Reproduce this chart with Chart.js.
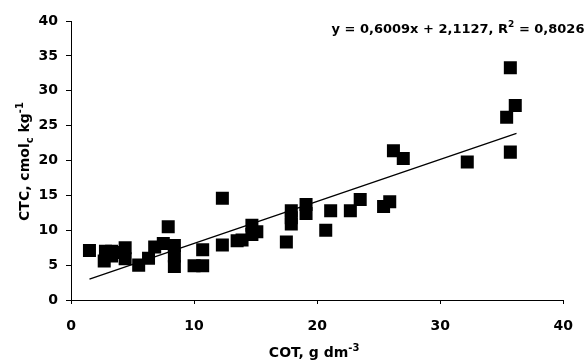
<!DOCTYPE html>
<html>
<head>
<meta charset="utf-8">
<script src="https://cdn.jsdelivr.net/npm/chart.js"></script>
<style>
  html, body { margin: 0; padding: 0; background: #fff; }
  #wrap { width: 587px; height: 362px; }
</style>
</head>
<body>
<div id="wrap"><canvas id="chart"></canvas></div>
<script>
// COT (g dm-3) and CTC (cmolc kg-1)
const cot = [1.5, 2.7, 2.8, 3.3, 3.3, 4.4, 4.4, 4.3, 5.5, 6.3, 6.8, 7.5, 7.9, 8.4, 8.4, 8.4,
  10.0, 10.7, 10.7, 12.3, 12.3, 13.5, 13.9, 14.7, 15.1, 14.7, 17.5, 17.9, 17.9, 17.9,
  19.1, 19.1, 20.7, 21.1, 22.7, 23.5, 25.4, 25.9, 26.2, 27.0, 32.2, 35.4, 36.1, 35.7, 35.7];
const ctc = [7.1, 5.6, 7.0, 7.0, 6.3, 7.5, 5.9, 6.8, 5.0, 6.0, 7.6, 8.1, 10.5, 7.8, 6.3, 4.8,
  4.9, 4.9, 7.2, 14.6, 7.9, 8.5, 8.6, 10.7, 9.8, 9.4, 8.3, 12.8, 11.8, 10.9,
  13.7, 12.4, 10.0, 12.8, 12.8, 14.4, 13.4, 14.1, 21.4, 20.3, 19.8, 26.2, 27.9, 33.3, 21.2];

// trend line ends (y = 0,6009x + 2,1127)
const trendX = [1.5, 36.2];
const trendY = [3.0, 23.9];

const xTicks = [0, 10, 20, 30, 40];
const yTicks = [0, 5, 10, 15, 20, 25, 30, 35, 40];

const FONT = "'DejaVu Sans', sans-serif";

function drawRich(ctx, parts, x, y) {
  let total = 0;
  parts.forEach(p => {
    ctx.font = 'bold ' + p[1] + 'px ' + FONT;
    total += ctx.measureText(p[0]).width;
  });
  let cx = x - total / 2;
  parts.forEach(p => {
    ctx.font = 'bold ' + p[1] + 'px ' + FONT;
    ctx.fillText(p[0], cx, y + p[2]);
    cx += ctx.measureText(p[0]).width;
  });
}

const labelsPlugin = {
  id: 'labels',
  afterDraw(chart) {
    const ctx = chart.ctx;
    const area = chart.chartArea;
    ctx.save();
    ctx.fillStyle = '#000';
    ctx.textBaseline = 'alphabetic';
    ctx.textAlign = 'left';
    // x title
    drawRich(ctx, [['COT, g dm', 14, 0], ['-3', 10, -6]], (area.left + area.right) / 2 - 3, 357);
    // y title
    ctx.save();
    ctx.translate(29, (area.top + area.bottom) / 2 + 1);
    ctx.rotate(-Math.PI / 2);
    drawRich(ctx, [['CTC, cmol', 14, 0], ['c', 10, 4], [' kg', 14, 0], ['-1', 10, -6]], 0, 0);
    ctx.restore();
    // equation
    drawRich(ctx, [['y = 0,6009x + 2,1127, R', 13, 0], ['2', 9, -6], [' = 0,8026', 13, 0]], 458, 33);
    ctx.restore();
  }
};

new Chart(document.getElementById('chart'), {
  data: {
    datasets: [
      {
        type: 'line',
        data: trendX.map((x, i) => ({ x: x, y: trendY[i] })),
        borderColor: '#000',
        borderWidth: 1.3,
        pointRadius: 0,
        fill: false,
        order: 0
      },
      {
        type: 'scatter',
        data: cot.map((x, i) => ({ x: x, y: ctc[i] })),
        pointStyle: 'rect',
        pointRadius: 9.2,
        backgroundColor: '#000',
        borderWidth: 0,
        order: 1
      }
    ]
  },
  options: {
    responsive: true,
    maintainAspectRatio: false,
    animation: false,
    layout: { padding: { left: 0, top: 21, right: 14, bottom: 0 } },
    plugins: { legend: { display: false }, tooltip: { enabled: false } },
    scales: {
      x: {
        type: 'linear',
        min: 0, max: 40,
        afterBuildTicks: s => { s.ticks = xTicks.map(v => ({ value: v })); },
        afterFit: s => { s.height = 62; },
        grid: { drawOnChartArea: false, drawTicks: true, tickLength: 4, color: '#000' },
        border: { color: '#000', width: 1 },
        ticks: { color: '#000', padding: 14, maxRotation: 0, font: { family: FONT, size: 14, weight: 'bold' } }
      },
      y: {
        type: 'linear',
        min: 0, max: 40,
        afterBuildTicks: s => { s.ticks = yTicks.map(v => ({ value: v })); },
        afterFit: s => { s.width = 71; },
        grid: { drawOnChartArea: false, drawTicks: true, tickLength: 5, color: '#000' },
        border: { color: '#000', width: 1 },
        ticks: { color: '#000', padding: 8, font: { family: FONT, size: 14, weight: 'bold' } }
      }
    }
  },
  plugins: [labelsPlugin]
});
</script>
</body>
</html>
